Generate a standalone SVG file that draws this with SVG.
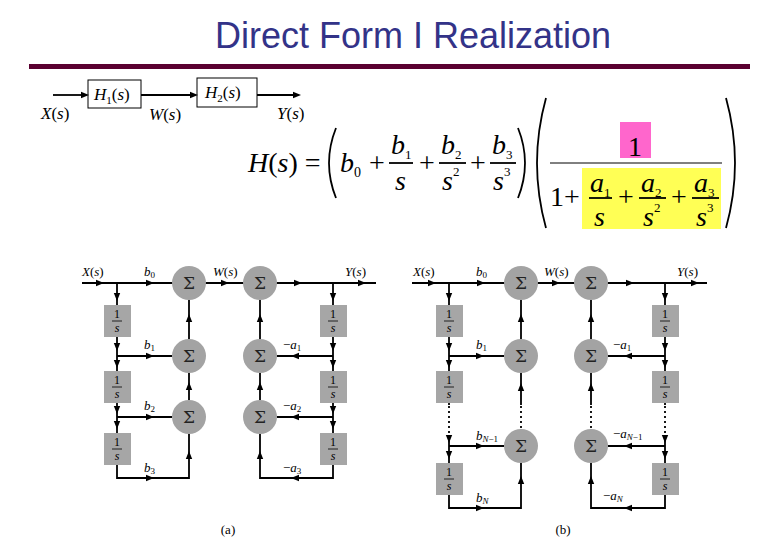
<svg xmlns="http://www.w3.org/2000/svg" xmlns:xlink="http://www.w3.org/1999/xlink" width="780" height="540" viewBox="0 0 780 540">
<style>
.t{font-family:"Liberation Serif",serif;font-style:italic;fill:#000}
.ln{stroke:#000;stroke-width:1.8;fill:none}
.dot{stroke:#000;stroke-width:1.8;fill:none;stroke-dasharray:2,3}
.c{fill:#a3a3a3}
.bx{fill:#a6a6a6}
.sig{font-family:"DejaVu Serif",serif;font-size:17px;text-anchor:middle;fill:#222}
.d{font-family:"Liberation Serif",serif;font-size:12px;text-anchor:middle}
.lb{font-family:"Liberation Serif",serif;font-style:italic;font-size:13px}
.m{font-family:"Liberation Serif",serif;font-style:italic;font-size:28px}
.mr{font-family:"Liberation Serif",serif;font-size:28px}
</style>
<defs>
<polygon id="ah" points="4,0 -4,-3.2 -4,3.2" fill="#000"/>
<g id="dl"><rect class="bx" x="-13" y="0" width="27" height="32"/><text class="d" x="0" y="13">1</text><line x1="-5" y1="16" x2="5" y2="16" stroke="#000" stroke-width="0.8"/><text class="d" x="0" y="27" font-style="italic">s</text></g>
<g id="sm"><circle class="c" r="17"/><text class="sig" y="6">Σ</text></g>
</defs>
<text x="413" y="48" font-family="Liberation Sans,Arial,sans-serif" font-size="36" fill="#333388" text-anchor="middle">Direct Form I Realization</text>
<rect x="29" y="64" width="721" height="5" fill="#5a0030"/>

<g id="top">
<g id="h1"><rect x="88" y="80" width="53" height="28" fill="#fff" stroke="#000"/><text class="t" x="94" y="100" font-size="17">H<tspan font-style="normal" font-size="11" dy="4">1</tspan><tspan font-style="normal" dy="-4">(</tspan>s<tspan font-style="normal">)</tspan></text></g>
<g id="h2"><rect x="197" y="78" width="60" height="29" fill="#fff" stroke="#000"/><text class="t" x="205" y="98" font-size="17">H<tspan font-style="normal" font-size="11" dy="4">2</tspan><tspan font-style="normal" dy="-4">(</tspan>s<tspan font-style="normal">)</tspan></text></g>
<g class="ln"><line x1="53" y1="95" x2="84" y2="95"/><line x1="141" y1="95" x2="193" y2="95"/><line x1="257" y1="95" x2="296" y2="95"/></g>
<use xlink:href="#ah" x="85" y="95"/><use xlink:href="#ah" x="194" y="95"/><use xlink:href="#ah" x="297" y="95"/>
<text class="t" x="41" y="119" font-size="17">X<tspan font-style="normal">(</tspan>s<tspan font-style="normal">)</tspan></text>
<text class="t" x="149" y="120" font-size="17">W<tspan font-style="normal">(</tspan>s<tspan font-style="normal">)</tspan></text>
<text class="t" x="277" y="119" font-size="17">Y<tspan font-style="normal">(</tspan>s<tspan font-style="normal">)</tspan></text>
</g>

<g id="formula">
<rect x="620" y="122" width="31" height="36" fill="#ff66cc"/>
<rect x="582" y="168" width="139" height="61" fill="#ffff55"/>
<text class="m" x="248" y="172">H<tspan font-style="normal">(</tspan>s<tspan font-style="normal">) =</tspan></text>
<path d="M336 128 Q322 163 336 198" class="ln" stroke-width="1.2"/>
<path d="M518 128 Q532 163 518 198" class="ln" stroke-width="1.2"/>
<text class="m" x="340" y="172">b<tspan font-size="14" font-style="normal" dy="5">0</tspan></text>
<g class="mr" text-anchor="middle"><text x="377" y="172">+</text><text x="427" y="172">+</text><text x="478" y="172">+</text></g>
<g class="ln" stroke-width="1"><line x1="389" y1="163" x2="413" y2="163"/><line x1="439" y1="163" x2="466" y2="163"/><line x1="490" y1="163" x2="516" y2="163"/></g>
<text class="m" x="391" y="154">b<tspan font-size="13" font-style="normal" dy="5">1</tspan></text>
<text class="m" x="441" y="154">b<tspan font-size="13" font-style="normal" dy="5">2</tspan></text>
<text class="m" x="492" y="154">b<tspan font-size="13" font-style="normal" dy="5">3</tspan></text>
<text class="m" x="395" y="190">s</text>
<text class="m" x="442" y="190">s<tspan font-size="13" font-style="normal" dy="-14">2</tspan></text>
<text class="m" x="493" y="190">s<tspan font-size="13" font-style="normal" dy="-14">3</tspan></text>
<path d="M546 98 Q528 163 546 228" class="ln" stroke-width="1.2"/>
<path d="M726 98 Q744 163 726 228" class="ln" stroke-width="1.2"/>
<text class="mr" x="635" y="156" text-anchor="middle">1</text>
<line x1="550" y1="163" x2="722" y2="163" stroke="#000" stroke-width="1"/>
<text class="mr" x="550" y="206">1+</text>
<g class="mr" text-anchor="middle"><text x="626" y="206">+</text><text x="679" y="206">+</text></g>
<g class="ln" stroke-width="1"><line x1="589" y1="198" x2="612" y2="198"/><line x1="639" y1="198" x2="666" y2="198"/><line x1="692" y1="198" x2="719" y2="198"/></g>
<text class="m" x="590" y="192">a<tspan font-size="13" font-style="normal" dy="5">1</tspan></text>
<text class="m" x="641" y="192">a<tspan font-size="13" font-style="normal" dy="5">2</tspan></text>
<text class="m" x="694" y="192">a<tspan font-size="13" font-style="normal" dy="5">3</tspan></text>
<text class="m" x="594" y="226">s</text>
<text class="m" x="643" y="226">s<tspan font-size="13" font-style="normal" dy="-14">2</tspan></text>
<text class="m" x="696" y="226">s<tspan font-size="13" font-style="normal" dy="-14">3</tspan></text>
</g>

<g id="connA">
<g class="ln">
<line x1="82" y1="283" x2="376" y2="283"/>
<polyline points="117,283 117,478 189,478 189,434"/>
<line x1="117" y1="356" x2="172" y2="356"/><line x1="117" y1="417" x2="172" y2="417"/>
<line x1="189" y1="300" x2="189" y2="339"/><line x1="189" y1="373" x2="189" y2="400"/>
<polyline points="333,283 333,478 260,478 260,434"/>
<line x1="333" y1="356" x2="277" y2="356"/><line x1="333" y1="417" x2="277" y2="417"/>
<line x1="260" y1="300" x2="260" y2="339"/><line x1="260" y1="373" x2="260" y2="400"/>
</g>
<use xlink:href="#ah" transform="translate(100,283)"/><use xlink:href="#ah" transform="translate(150,283)"/><use xlink:href="#ah" transform="translate(225,283)"/><use xlink:href="#ah" transform="translate(298,283)"/><use xlink:href="#ah" transform="translate(362,283)"/>
<use xlink:href="#ah" transform="translate(150,356)"/><use xlink:href="#ah" transform="translate(150,417)"/><use xlink:href="#ah" transform="translate(150,478)"/>
<use xlink:href="#ah" transform="translate(295,356) rotate(180)"/><use xlink:href="#ah" transform="translate(295,417) rotate(180)"/><use xlink:href="#ah" transform="translate(295,478) rotate(180)"/>
<use xlink:href="#ah" transform="translate(117,297) rotate(90)"/><use xlink:href="#ah" transform="translate(117,347) rotate(90)"/><use xlink:href="#ah" transform="translate(117,364) rotate(90)"/><use xlink:href="#ah" transform="translate(117,410) rotate(90)"/><use xlink:href="#ah" transform="translate(117,425) rotate(90)"/>
<use xlink:href="#ah" transform="translate(333,297) rotate(90)"/><use xlink:href="#ah" transform="translate(333,347) rotate(90)"/><use xlink:href="#ah" transform="translate(333,364) rotate(90)"/><use xlink:href="#ah" transform="translate(333,410) rotate(90)"/><use xlink:href="#ah" transform="translate(333,425) rotate(90)"/>
<use xlink:href="#ah" transform="translate(189,318) rotate(-90)"/><use xlink:href="#ah" transform="translate(189,386) rotate(-90)"/><use xlink:href="#ah" transform="translate(189,455) rotate(-90)"/>
<use xlink:href="#ah" transform="translate(260,318) rotate(-90)"/><use xlink:href="#ah" transform="translate(260,386) rotate(-90)"/><use xlink:href="#ah" transform="translate(260,455) rotate(-90)"/>
</g>
<g id="nodesA">
<use xlink:href="#sm" x="189" y="283"/><use xlink:href="#sm" x="189" y="356"/><use xlink:href="#sm" x="189" y="417"/>
<use xlink:href="#sm" x="260" y="283"/><use xlink:href="#sm" x="260" y="356"/><use xlink:href="#sm" x="260" y="417"/>
<use xlink:href="#dl" x="117" y="305"/><use xlink:href="#dl" x="117" y="371"/><use xlink:href="#dl" x="117" y="433"/>
<use xlink:href="#dl" x="333" y="305"/><use xlink:href="#dl" x="333" y="371"/><use xlink:href="#dl" x="333" y="433"/>
</g>
<g id="labelsA" class="lb">
<text x="82" y="276">X<tspan font-style="normal">(</tspan>s<tspan font-style="normal">)</tspan></text>
<text x="144" y="276">b<tspan font-style="normal" font-size="9" dy="2">0</tspan></text>
<text x="213" y="276">W<tspan font-style="normal">(</tspan>s<tspan font-style="normal">)</tspan></text>
<text x="345" y="276">Y<tspan font-style="normal">(</tspan>s<tspan font-style="normal">)</tspan></text>
<text x="144" y="349">b<tspan font-style="normal" font-size="9" dy="2">1</tspan></text>
<text x="144" y="410">b<tspan font-style="normal" font-size="9" dy="2">2</tspan></text>
<text x="144" y="472">b<tspan font-style="normal" font-size="9" dy="2">3</tspan></text>
<text x="283" y="349"><tspan font-style="normal">−</tspan>a<tspan font-style="normal" font-size="9" dy="2">1</tspan></text>
<text x="283" y="410"><tspan font-style="normal">−</tspan>a<tspan font-style="normal" font-size="9" dy="2">2</tspan></text>
<text x="283" y="472"><tspan font-style="normal">−</tspan>a<tspan font-style="normal" font-size="9" dy="2">3</tspan></text>
<text x="228" y="534" font-style="normal" text-anchor="middle">(a)</text>
</g>

<g id="connB">
<g class="ln">
<line x1="412" y1="283" x2="707" y2="283"/>
<polyline points="449,283 449,405"/><polyline points="449,436 449,508 521,508 521,463"/>
<line x1="449" y1="356" x2="504" y2="356"/><line x1="449" y1="446" x2="504" y2="446"/>
<line x1="521" y1="300" x2="521" y2="339"/><line x1="521" y1="373" x2="521" y2="405"/>
<polyline points="665,283 665,405"/><polyline points="665,436 665,508 591,508 591,463"/>
<line x1="665" y1="356" x2="608" y2="356"/><line x1="665" y1="446" x2="608" y2="446"/>
<line x1="591" y1="300" x2="591" y2="339"/><line x1="591" y1="373" x2="591" y2="405"/>
</g>
<g class="dot"><line x1="449" y1="406" x2="449" y2="436"/><line x1="521" y1="406" x2="521" y2="429"/><line x1="665" y1="406" x2="665" y2="436"/><line x1="591" y1="406" x2="591" y2="429"/></g>
<use xlink:href="#ah" transform="translate(432,283)"/><use xlink:href="#ah" transform="translate(481,283)"/><use xlink:href="#ah" transform="translate(556,283)"/><use xlink:href="#ah" transform="translate(630,283)"/><use xlink:href="#ah" transform="translate(695,283)"/>
<use xlink:href="#ah" transform="translate(480,356)"/><use xlink:href="#ah" transform="translate(480,446)"/><use xlink:href="#ah" transform="translate(480,508)"/>
<use xlink:href="#ah" transform="translate(628,356) rotate(180)"/><use xlink:href="#ah" transform="translate(628,446) rotate(180)"/><use xlink:href="#ah" transform="translate(628,508) rotate(180)"/>
<use xlink:href="#ah" transform="translate(449,297) rotate(90)"/><use xlink:href="#ah" transform="translate(449,347) rotate(90)"/><use xlink:href="#ah" transform="translate(449,364) rotate(90)"/><use xlink:href="#ah" transform="translate(449,439) rotate(90)"/><use xlink:href="#ah" transform="translate(449,455) rotate(90)"/>
<use xlink:href="#ah" transform="translate(665,297) rotate(90)"/><use xlink:href="#ah" transform="translate(665,347) rotate(90)"/><use xlink:href="#ah" transform="translate(665,364) rotate(90)"/><use xlink:href="#ah" transform="translate(665,439) rotate(90)"/><use xlink:href="#ah" transform="translate(665,455) rotate(90)"/>
<use xlink:href="#ah" transform="translate(521,318) rotate(-90)"/><use xlink:href="#ah" transform="translate(521,387) rotate(-90)"/><use xlink:href="#ah" transform="translate(521,480) rotate(-90)"/>
<use xlink:href="#ah" transform="translate(591,318) rotate(-90)"/><use xlink:href="#ah" transform="translate(591,387) rotate(-90)"/><use xlink:href="#ah" transform="translate(591,480) rotate(-90)"/>
</g>
<g id="nodesB">
<use xlink:href="#sm" x="521" y="283"/><use xlink:href="#sm" x="521" y="356"/><use xlink:href="#sm" x="521" y="446"/>
<use xlink:href="#sm" x="591" y="283"/><use xlink:href="#sm" x="591" y="356"/><use xlink:href="#sm" x="591" y="446"/>
<use xlink:href="#dl" x="449" y="305"/><use xlink:href="#dl" x="449" y="371"/><use xlink:href="#dl" x="449" y="463"/>
<use xlink:href="#dl" x="665" y="305"/><use xlink:href="#dl" x="665" y="371"/><use xlink:href="#dl" x="665" y="463"/>
</g>
<g id="labelsB" class="lb">
<text x="413" y="276">X<tspan font-style="normal">(</tspan>s<tspan font-style="normal">)</tspan></text>
<text x="476" y="276">b<tspan font-style="normal" font-size="9" dy="2">0</tspan></text>
<text x="544" y="276">W<tspan font-style="normal">(</tspan>s<tspan font-style="normal">)</tspan></text>
<text x="677" y="276">Y<tspan font-style="normal">(</tspan>s<tspan font-style="normal">)</tspan></text>
<text x="476" y="349">b<tspan font-style="normal" font-size="9" dy="2">1</tspan></text>
<text x="476" y="440">b<tspan font-size="9" dy="2">N<tspan font-style="normal">−1</tspan></tspan></text>
<text x="476" y="502">b<tspan font-size="9" dy="2">N</tspan></text>
<text x="613" y="349"><tspan font-style="normal">−</tspan>a<tspan font-style="normal" font-size="9" dy="2">1</tspan></text>
<text x="613" y="438"><tspan font-style="normal">−</tspan>a<tspan font-size="9" dy="2">N<tspan font-style="normal">−1</tspan></tspan></text>
<text x="603" y="500"><tspan font-style="normal">−</tspan>a<tspan font-size="9" dy="2">N</tspan></text>
<text x="563" y="534" font-style="normal" text-anchor="middle">(b)</text>
</g>
</svg>
